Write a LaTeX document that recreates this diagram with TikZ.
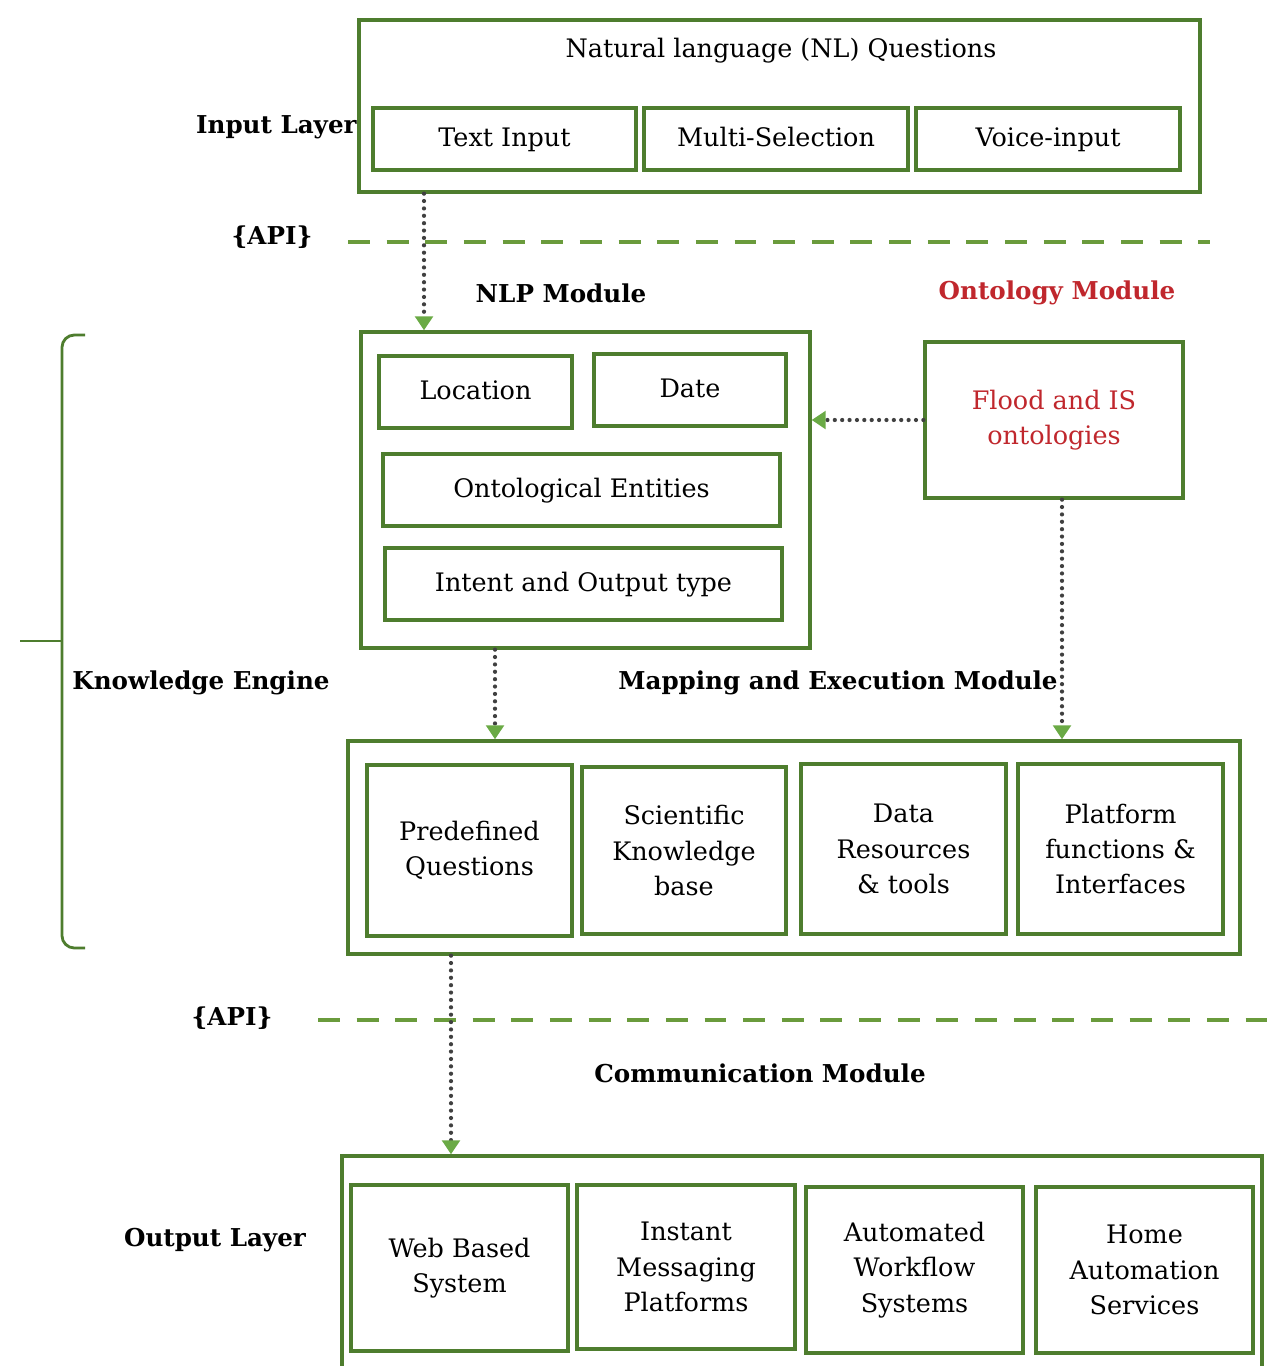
\documentclass[tikz,border=0pt]{standalone}
\usepackage{fontspec}
\setmainfont{DejaVu Serif}
\usetikzlibrary{arrows.meta}
\definecolor{boxgreen}{HTML}{4E7D2E}
\definecolor{dashgreen}{HTML}{6A9B3C}
\definecolor{tipgreen}{HTML}{6AAA45}
\definecolor{ontored}{HTML}{C0272D}
\tikzset{
 box/.style={draw=boxgreen,line width=1.9pt,inner sep=0pt,align=center,font=\fontsize{14.5}{20}\selectfont},
 txt/.style={inner sep=0pt,align=center,font=\fontsize{14.5}{20}\selectfont},
 lbl/.style={inner sep=0pt,font=\bfseries\fontsize{14}{17}\selectfont},
 dotarrow/.style={draw=black!75,line width=2.4pt,line cap=round,dash pattern=on 0pt off 4.2pt,-{Triangle[width=10pt,length=8pt,color=tipgreen]}},
 apiline/.style={draw=dashgreen,line width=2pt,dash pattern=on 12.5pt off 9.5pt}
}
\begin{document}
\begin{tikzpicture}[x=0.02cm,y=-0.02cm]
 \useasboundingbox[fill=white] (0,0) rectangle (1267,1366);
 % input layer
 \node[box,minimum width=16.82cm,minimum height=3.44cm] (inp) at (779.5,106) {};
 \node[txt] (nlq) at (781,50) {\strut Natural language (NL) Questions};
 \node[box,minimum width=5.26cm,minimum height=1.24cm] (tin) at (504.5,139) {\strut Text Input};
 \node[box,minimum width=5.28cm,minimum height=1.24cm] (msel) at (776,139) {\strut Multi-Selection};
 \node[box,minimum width=5.28cm,minimum height=1.24cm] (voice) at (1048,139) {\strut Voice-input};
 \node[lbl,anchor=east] (inlay) at (357,127) {Input Layer};
 \node[lbl] (api1) at (272,237) {\{API\}};
 \coordinate (d1a) at (348,242);
 \coordinate (d1b) at (1210,242);
 \draw[apiline] (d1a) -- (d1b);
 % nlp and ontology
 \node[lbl] (nlplbl) at (561,293) {NLP Module};
 \node[lbl,text=ontored] (ontlbl) at (1057,293) {Ontology Module};
 \node[box,minimum width=8.98cm,minimum height=6.32cm] (nlp) at (585.5,490) {};
 \node[box,minimum width=3.86cm,minimum height=1.44cm] (loc) at (475.5,392) {\strut Location};
 \node[box,minimum width=3.84cm,minimum height=1.44cm] (date) at (690,390) {\strut Date};
 \node[box,minimum width=7.94cm,minimum height=1.44cm] (ent) at (581.5,490) {\strut Ontological Entities};
 \node[box,minimum width=7.94cm,minimum height=1.44cm] (intent) at (583.5,584) {\strut Intent and Output type};
 \node[box,minimum width=5.16cm,minimum height=3.12cm,text=ontored] (onto) at (1054,420) {Flood and IS\\ontologies};
 % brace
 \draw[boxgreen,line width=1.6pt,rounded corners=7pt] (85,335) -- (62,335) -- (62,948) -- (85,948);
 \draw[boxgreen,line width=1.6pt] (20,641) -- (62,641);
 \node[lbl] (kelbl) at (201,683) {Knowledge Engine};
 \node[lbl] (maplbl) at (838,683) {Mapping and Execution Module};
 % mapping
 \node[box,minimum width=17.84cm,minimum height=4.26cm] (map) at (794,847.5) {};
 \node[box,minimum width=4.10cm,minimum height=3.42cm] (pre) at (469.5,850.5) {Predefined\\Questions};
 \node[box,minimum width=4.08cm,minimum height=3.34cm] (sci) at (684,850.5) {Scientific\\Knowledge\\base};
 \node[box,minimum width=4.10cm,minimum height=3.40cm] (data) at (903.5,849) {Data\\Resources\\\& tools};
 \node[box,minimum width=4.10cm,minimum height=3.40cm] (plat) at (1120.5,849) {Platform\\functions \&\\Interfaces};
 \node[lbl] (api2) at (232,1018) {\{API\}};
 \coordinate (d2a) at (318,1020);
 \coordinate (d2b) at (1267,1020);
 \draw[apiline] (d2a) -- (d2b);
 \node[lbl] (comlbl) at (760,1073) {Communication Module};
 % output layer
 \node[box,minimum width=18.40cm,minimum height=4.48cm] (out) at (802,1268) {};
 \node[box,minimum width=4.34cm,minimum height=3.32cm] (web) at (459.5,1268) {Web Based\\System};
 \node[box,minimum width=4.36cm,minimum height=3.28cm] (inst) at (686,1267) {Instant\\Messaging\\Platforms};
 \node[box,minimum width=4.34cm,minimum height=3.32cm] (auto) at (914.5,1270) {Automated\\Workflow\\Systems};
 \node[box,minimum width=4.34cm,minimum height=3.32cm] (home) at (1144.5,1270) {Home\\Automation\\Services};
 \node[lbl] (outlbl) at (215,1240) {Output Layer};
 % arrows
 \coordinate (c1) at (424,0);
 \coordinate (c2) at (495,0);
 \coordinate (c3) at (1062,0);
 \coordinate (c4) at (451,0);
 \draw[dotarrow] (inp.south -| c1) -- (nlp.north -| c1);
 \draw[dotarrow] (onto.west) -- (onto.west -| nlp.east);
 \draw[dotarrow] (onto.south -| c3) -- (map.north -| c3);
 \draw[dotarrow] (nlp.south -| c2) -- (map.north -| c2);
 \draw[dotarrow] (map.south -| c4) -- (out.north -| c4);
\end{tikzpicture}
\end{document}
